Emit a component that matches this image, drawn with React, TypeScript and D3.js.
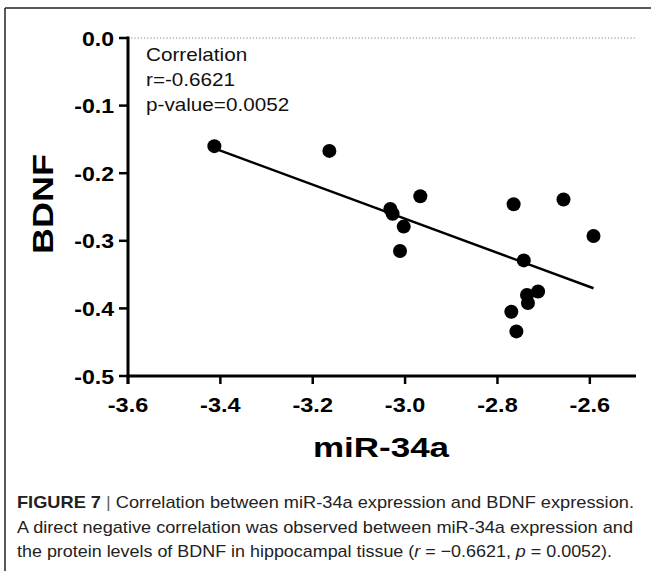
import React from "react";
import * as d3 from "d3";

const mir34a = [-3.413, -3.164, -3.032, -3.027, -2.967, -3.003, -3.011, -2.765, -2.657, -2.592, -2.743, -2.736, -2.712, -2.734, -2.770, -2.759];
const bdnf = [-0.160, -0.167, -0.253, -0.260, -0.234, -0.279, -0.315, -0.246, -0.239, -0.293, -0.329, -0.380, -0.375, -0.392, -0.405, -0.434];
const xTicks = [-3.6, -3.4, -3.2, -3.0, -2.8, -2.6];
const yTicks = [0.0, -0.1, -0.2, -0.3, -0.4, -0.5];
const statLines = ["Correlation", "r=-0.6621", "p-value=0.0052"];
const xTitle = "miR-34a";
const yTitle = "BDNF";
const captionLines = [
  { bold: "FIGURE 7", text: "Correlation between miR-34a expression and BDNF expression." },
  { bold: "", text: "A direct negative correlation was observed between miR-34a expression and" },
  { bold: "", text: "the protein levels of BDNF in hippocampal tissue (" },
];

const W = 651;
const H = 571;
const FONT = "'Liberation Sans', Arial, Helvetica, sans-serif";

export default function App() {
  const x = d3.scaleLinear().domain([-3.6, -2.5]).range([128, 636]);
  const y = d3.scaleLinear().domain([0, -0.5]).range([38, 376]);

  const mx = d3.mean(mir34a) as number;
  const my = d3.mean(bdnf) as number;
  let sxy = 0, sxx = 0;
  mir34a.forEach((v, i) => { sxy += (v - mx) * (bdnf[i] - my); sxx += (v - mx) * (v - mx); });
  const slope = sxy / sxx;
  const icpt = my - slope * mx;
  const [x0, x1] = d3.extent(mir34a) as [number, number];
  const line = d3.line<number>().x((d) => x(d)).y((d) => y(slope * d + icpt));

  const x0px = x(-3.6);
  const y0px = y(-0.5);
  const fmt = (t: number) => d3.format(".1f")(t).replace("\u2212", "-");

  return (
    <div style={{ position: "fixed", left: 0, top: 0, width: W, height: H, background: "#fff" }}>
      <svg width={W} height={H} style={{ display: "block" }}>
        <rect x={0} y={0} width={W} height={H} fill="#fff" />
        {/* frame */}
        <line x1={5} x2={W} y1={8} y2={8} stroke="#222" strokeWidth={1.5} />
        <line x1={5} x2={5} y1={8} y2={H} stroke="#222" strokeWidth={1.5} />

        {/* zero dotted line */}
        <line x1={x0px} x2={x(-2.5)} y1={y(0)} y2={y(0)} stroke="#888" strokeWidth={1} strokeDasharray="1.2,2" />

        {/* axes */}
        <line x1={x0px} x2={x0px} y1={y(0) - 1.5} y2={y0px + 8} stroke="#000" strokeWidth={3} />
        <line x1={x0px - 1.5} x2={x(-2.5)} y1={y0px} y2={y0px} stroke="#000" strokeWidth={3} />
        {yTicks.map((t) => (
          <g key={"y" + t}>
            <line x1={x0px - 9} x2={x0px} y1={y(t)} y2={y(t)} stroke="#000" strokeWidth={2.5} />
            <text transform={`translate(${x0px - 14},${y(t)}) scale(1.1,1)`} dy="0.36em" textAnchor="end" fontFamily={FONT} fontWeight="bold" fontSize={21} fill="#000">
              {fmt(t)}
            </text>
          </g>
        ))}
        {xTicks.map((t) => (
          <g key={"x" + t}>
            <line x1={x(t)} x2={x(t)} y1={y0px} y2={y0px + 8} stroke="#000" strokeWidth={2.5} />
            <text transform={`translate(${x(t)},${y0px + 28}) scale(1.12,1)`} dy="0.36em" textAnchor="middle" fontFamily={FONT} fontWeight="bold" fontSize={21} fill="#000">
              {fmt(t)}
            </text>
          </g>
        ))}

        {/* titles */}
        <text transform="translate(381,447) scale(1.25,1)" dy="0.36em" textAnchor="middle" fontFamily={FONT} fontWeight="bold" fontSize={28} fill="#000">{xTitle}</text>
        <text transform={`translate(42,204) rotate(-90) scale(1.2,1)`} dy="0.36em" textAnchor="middle" fontFamily={FONT} fontWeight="bold" fontSize={30} fill="#000">{yTitle}</text>

        {/* stats */}
        {statLines.map((s, i) => (
          <text key={s} transform={`translate(146,${55 + i * 25}) scale(1.15,1)`} dy="0.36em" fontFamily={FONT} fontSize={18} fill="#111">{s}</text>
        ))}

        {/* regression */}
        <path d={line([x0, x1]) || ""} stroke="#000" strokeWidth={2.5} fill="none" />

        {/* points */}
        {mir34a.map((v, i) => (
          <circle key={i} cx={x(v)} cy={y(bdnf[i])} r={7} fill="#000" />
        ))}

        {/* caption */}
        <text x={17} y={508} fontFamily={FONT} fontSize={17} fill="#222" textLength={617} lengthAdjust="spacingAndGlyphs">
          <tspan fontWeight="bold">{captionLines[0].bold}</tspan>
          <tspan fill="#666">{" | "}</tspan>
          <tspan>{captionLines[0].text}</tspan>
        </text>
        <text x={17} y={533} fontFamily={FONT} fontSize={17} fill="#222" textLength={616} lengthAdjust="spacingAndGlyphs">
          {captionLines[1].text}
        </text>
        <text x={17} y={557} fontFamily={FONT} fontSize={17} fill="#222" textLength={595} lengthAdjust="spacingAndGlyphs">
          {captionLines[2].text}
          <tspan fontStyle="italic">r</tspan>
          {" = \u22120.6621, "}
          <tspan fontStyle="italic">p</tspan>
          {" = 0.0052)."}
        </text>
      </svg>
    </div>
  );
}
